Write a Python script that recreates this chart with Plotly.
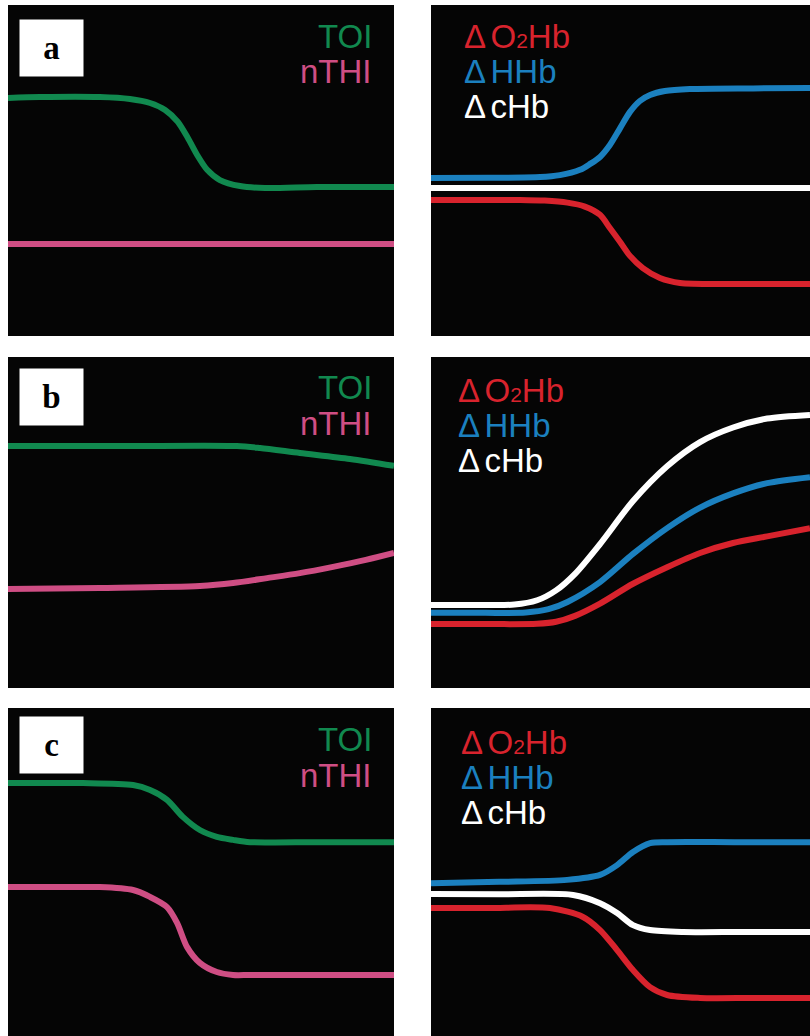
import plotly.graph_objects as go

# ---------------- data (time 0-100, signal 0-100 within each panel) ----------------
# Panel a (left): TOI / nTHI
a_toi_x = [0, 8.3, 23.8, 31.6, 36.8, 40.7, 44.0, 46.6, 49.0, 51.6, 54.9, 60.1, 66.6, 80, 100]
a_toi_y = [71.9, 72.2, 72.2, 71.6, 70.4, 68.3, 64.7, 59.8, 54.7, 50.2, 47.1, 45.3, 44.7, 45.0, 45.0]
a_nthi_x = [0, 50, 100]
a_nthi_y = [27.8, 27.8, 27.8]
# Panel a (right): O2Hb / HHb / cHb
a_hhb_x = [0, 15, 28.8, 34.0, 39.3, 42.0, 44.6, 47.2, 49.9, 52.5, 55.1, 57.8, 61.7, 68.3, 85, 100]
a_hhb_y = [47.7, 47.8, 48.0, 48.6, 50.2, 52.0, 54.1, 57.7, 62.8, 67.7, 71.0, 72.8, 74.0, 74.6, 74.8, 74.9]
a_chb_x = [0, 50, 100]
a_chb_y = [44.7, 44.7, 44.7]
a_o2hb_x = [0, 12, 23.5, 30.0, 36.0, 40.6, 44.6, 47.2, 49.9, 52.5, 55.9, 60.4, 65.7, 80, 100]
a_o2hb_y = [41.1, 41.1, 41.1, 40.9, 40.3, 39.1, 36.6, 32.6, 28.4, 24.2, 20.5, 17.5, 16.0, 15.7, 15.7]

# Panel b (left)
b_toi_x = [0, 30, 59.3, 65.3, 75.6, 88.6, 100]
b_toi_y = [73.1, 73.1, 73.1, 72.5, 71.0, 69.2, 67.1]
b_nthi_x = [0, 23.8, 49.7, 58.3, 67.1, 75.6, 84.2, 92.7, 100]
b_nthi_y = [29.9, 30.2, 30.8, 31.7, 33.2, 34.7, 36.6, 38.7, 40.8]
# Panel b (right)
b_chb_x = [0, 12, 22.0, 28.0, 33.0, 38.0, 44.6, 53.3, 62.3, 71.0, 79.7, 88.7, 100]
b_chb_y = [25.1, 25.1, 25.2, 26.5, 29.5, 34.5, 43.5, 56.5, 67.0, 74.3, 78.7, 81.4, 82.5]
b_hhb_x = [0, 14, 25.0, 31.0, 36.0, 44.6, 53.3, 62.3, 71.0, 79.7, 88.7, 100]
b_hhb_y = [22.7, 22.7, 22.8, 23.8, 26.0, 32.0, 40.5, 48.3, 54.5, 58.8, 61.9, 63.7]
b_o2hb_x = [0, 16, 28.0, 33.0, 38.0, 44.6, 53.3, 62.3, 71.0, 79.7, 88.7, 100]
b_o2hb_y = [19.3, 19.3, 19.4, 20.0, 21.8, 25.5, 31.5, 36.5, 40.8, 43.8, 45.8, 48.3]

# Panel c (left)
c_toi_x = [0, 10, 19.4, 32.4, 36.8, 41.2, 45.3, 49.7, 54.1, 58.3, 62.7, 80, 100]
c_toi_y = [77.1, 77.1, 77.1, 76.5, 75.0, 72.0, 66.8, 62.8, 60.7, 59.8, 59.1, 59.1, 59.1]
c_nthi_x = [0, 12, 23.8, 32.4, 36.8, 41.2, 43.8, 46.4, 49.7, 54.1, 58.3, 62.7, 80, 100]
c_nthi_y = [45.4, 45.4, 45.4, 44.5, 42.4, 39.3, 34.5, 27.1, 22.3, 19.5, 18.6, 18.6, 18.6, 18.6]
# Panel c (right)
c_hhb_x = [0, 18, 35.9, 44.6, 49.1, 53.3, 57.8, 62.3, 80, 100]
c_hhb_y = [46.6, 47.0, 47.6, 49.1, 52.1, 56.1, 58.8, 59.1, 59.1, 59.1]
c_chb_x = [0, 18, 37.5, 44.6, 49.1, 53.3, 57.8, 66.5, 82, 100]
c_chb_y = [43.3, 43.2, 43.0, 40.5, 37.5, 33.8, 32.3, 31.7, 31.7, 31.7]
c_o2hb_x = [0, 15, 31.4, 40.1, 44.6, 49.1, 53.3, 57.8, 62.3, 71.0, 85, 100]
c_o2hb_y = [39.0, 39.0, 39.0, 36.3, 32.3, 26.2, 20.1, 14.9, 12.5, 11.6, 11.6, 11.6]

panel_labels = ["a", "b", "c"]
left_names = ["TOI", "nTHI"]
GAP = "<span style=\"font-size:16px\"> </span>"
right_names = ["\u0394" + GAP + "O<span style=\"font-size:21px\">2</span>Hb",
               "\u0394" + GAP + "HHb",
               "\u0394" + GAP + "cHb"]

# ---------------- styles ----------------
GREEN = "#11894f"
PINK = "#cf4e84"
RED = "#d8232d"
BLUE = "#1b80bf"
WHITE = "#ffffff"
LW = 6

W, H = 810, 1036

def pxx(x):
    return x / W

def pxy(y):
    return 1 - y / H

# panel pixel boxes
rows_px = [(5, 336), (357, 688), (708, 1036)]
left_px = (8, 394)
right_px = (431, 810)

fig = go.Figure()

data_left = [
    (a_toi_x, a_toi_y, a_nthi_x, a_nthi_y),
    (b_toi_x, b_toi_y, b_nthi_x, b_nthi_y),
    (c_toi_x, c_toi_y, c_nthi_x, c_nthi_y),
]
data_right = [
    (a_o2hb_x, a_o2hb_y, a_hhb_x, a_hhb_y, a_chb_x, a_chb_y),
    (b_o2hb_x, b_o2hb_y, b_hhb_x, b_hhb_y, b_chb_x, b_chb_y),
    (c_o2hb_x, c_o2hb_y, c_hhb_x, c_hhb_y, c_chb_x, c_chb_y),
]

layout_axes = {}
ax = 0
for r, (top, bot) in enumerate(rows_px):
    for c, (l, rr) in enumerate([left_px, right_px]):
        ax += 1
        sfx = "" if ax == 1 else str(ax)
        common = dict(showgrid=False, zeroline=False, showticklabels=False,
                      showline=False, ticks="", fixedrange=True)
        layout_axes["xaxis" + sfx] = dict(domain=[pxx(l), pxx(rr)], range=[0, 100],
                                          anchor="y" + sfx, **common)
        layout_axes["yaxis" + sfx] = dict(domain=[pxy(bot), pxy(top)], range=[0, 100],
                                          anchor="x" + sfx, **common)
        xa, ya = "x" + sfx, "y" + sfx
        if c == 0:
            tx, ty, nx, ny = data_left[r]
            for xs, ys, col in [(nx, ny, PINK), (tx, ty, GREEN)]:
                fig.add_trace(go.Scatter(x=xs, y=ys, mode="lines", xaxis=xa, yaxis=ya,
                                         line=dict(color=col, width=LW, shape="spline", smoothing=0.8),
                                         showlegend=False, hoverinfo="skip"))
        else:
            ox, oy, hx, hy, cx, cy = data_right[r]
            for xs, ys, col in [(ox, oy, RED), (hx, hy, BLUE), (cx, cy, WHITE)]:
                fig.add_trace(go.Scatter(x=xs, y=ys, mode="lines", xaxis=xa, yaxis=ya,
                                         line=dict(color=col, width=LW, shape="spline", smoothing=0.8),
                                         showlegend=False, hoverinfo="skip"))

annotations = []
# panel letter boxes
box_centers = [(51.5, 48), (51.5, 397.5), (51.5, 745)]
for lab, (bx, by) in zip(panel_labels, box_centers):
    annotations.append(dict(
        x=pxx(bx), y=pxy(by), xref="paper", yref="paper", xanchor="center", yanchor="middle",
        text="<b>" + lab + "</b>", showarrow=False, bgcolor="white", width=61, height=54,
        font=dict(family="Liberation Serif, Times New Roman, serif", size=33, color="black"),
        align="center", valign="middle"))

# left legends (TOI / nTHI)
left_y = [(36, 71), (388, 423), (739, 775)]
for (ty, ny) in left_y:
    for txt, yy, col in [(left_names[0], ty, GREEN), (left_names[1], ny, PINK)]:
        annotations.append(dict(
            x=pxx(373), y=pxy(yy), xref="paper", yref="paper", xanchor="right", yanchor="middle",
            text=txt, showarrow=False, borderpad=0,
            font=dict(family="Liberation Sans, Arial, sans-serif", size=33, color=col)))

# right legends
right_pos = [(463, (37, 72, 107)), (457, (390, 425, 460)), (460, (742, 777, 812))]
for (lx, ys) in right_pos:
    for txt, yy, col in zip(right_names, ys, [RED, BLUE, WHITE]):
        annotations.append(dict(
            x=pxx(lx), y=pxy(yy), xref="paper", yref="paper", xanchor="left", yanchor="middle",
            text=txt, showarrow=False, borderpad=0,
            font=dict(family="Liberation Sans, Arial, sans-serif", size=33, color=col)))

fig.update_layout(
    width=W, height=H,
    margin=dict(l=0, r=0, t=0, b=0),
    paper_bgcolor="white",
    plot_bgcolor="#050505",
    annotations=annotations,
    showlegend=False,
    **layout_axes,
)

fig.write_html("out.html", config={"displayModeBar": False},
               post_script="document.body.style.margin='0';document.body.style.padding='0';")
